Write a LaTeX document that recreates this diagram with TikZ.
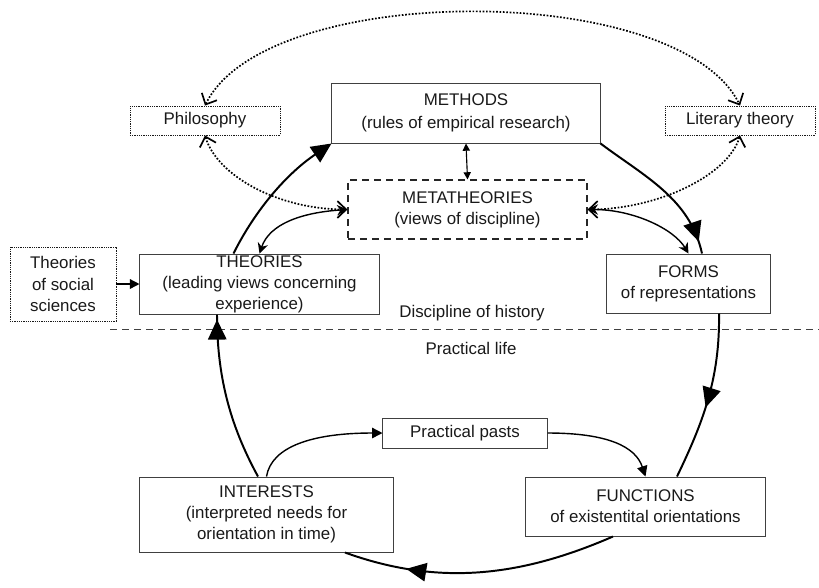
\documentclass[tikz,border=0pt]{standalone}
\usepackage{fontspec}
\setmainfont{Liberation Sans}
\usetikzlibrary{arrows.meta, positioning, calc, decorations.markings}

\begin{document}
\begin{tikzpicture}[
  x=0.025cm, y=-0.025cm,
  font=\fontsize{12}{15}\selectfont,
  box/.style={rectangle, draw=black!75, line width=0.7pt, align=center,
              text=black!90, inner sep=0pt},
  dotbox/.style={box, draw=black!90, line width=0.6pt, dash pattern=on 0.8pt off 0.8pt},
  dashbox/.style={box, draw=black!85, line width=0.8pt, dash pattern=on 1.8mm off 1.2mm},
  loopline/.style={line width=1.4pt},
  midtip/.style={postaction={decorate}, decoration={markings,
                 mark=at position #1 with {\arrow{Triangle[length=5mm,width=4.6mm]}}}},
  thinlink/.style={line width=1pt},
  twoway/.style={thinlink, {Stealth[length=2.6mm,width=2.6mm]}-{Stealth[length=2.6mm,width=2.6mm]}},
  dotlink/.style={line width=1.2pt, dash pattern=on 1.2pt off 1.2pt,
                  {Straight Barb[length=2.2mm,width=4.2mm]}-{Straight Barb[length=2.2mm,width=4.2mm]}}
]
  \useasboundingbox (0,0) rectangle (819,587);

  % cajas
  \node[dotbox, minimum width=3.75cm, minimum height=0.725cm] (phil) at (205,120.5) {Philosophy};
  \node[box, minimum width=6.7cm, minimum height=1.5cm, font=\fontsize{12}{16}\selectfont] (meth) at (466,113)
       {METHODS\\(rules of empirical research)};
  \node[dotbox, minimum width=3.75cm, minimum height=0.725cm] (lit) at (740,120.5) {Literary theory};
  \node[dashbox, minimum width=5.975cm, minimum height=1.475cm] (meta) at (467.5,209.5)
       {METATHEORIES\\(views of discipline)};
  \node[dotbox, minimum width=2.65cm, minimum height=1.85cm] (tss) at (63,284)
       {Theories\\of social\\sciences};
  \node[box, minimum width=5.975cm, minimum height=1.5cm] (theo) at (259.5,284)
       {THEORIES\\(leading views concerning\\experience)};
  \node[box, minimum width=4.075cm, minimum height=1.475cm] (forms) at (688.5,283.5)
       {FORMS\\of representations};
  \node[box, minimum width=4.1cm, minimum height=0.75cm] (past) at (465,433) {Practical pasts};
  \node[box, minimum width=6.325cm, minimum height=1.875cm] (inter) at (266.5,514.5)
       {INTERESTS\\(interpreted needs for\\orientation in time)};
  \node[box, minimum width=5.975cm, minimum height=1.475cm] (func) at (645.5,506.5)
       {FUNCTIONS\\of existentital orientations};

  % division
  \draw[black!75, line width=0.7pt, dash pattern=on 1.8mm off 1.2mm] (110,329) -- (819,329);
  \node[text=black!90] (disc) at (472,313) {Discipline of history};
  \node[text=black!90] (prac) at (471,348) {Practical life};

  % ciclo principal
  \draw[loopline, -{Triangle[length=5mm,width=4.6mm]}] ($(theo.north)+(-26,0)$)
       .. controls +(23,-46) and +(-43,29) .. (meth.south west);
  \draw[loopline, midtip=0.92] (meth.south east)
       .. controls +(44,33) and +(-12,-55) .. ($(forms.north)+(13.5,0)$);
  \draw[loopline, midtip=0.56] ($(forms.south)+(30.5,0)$)
       .. controls +(1,65) and +(26,-54) .. ($(func.north)+(31.5,0)$);
  \draw[loopline, midtip=0.77] ($(func.south)+(-32.5,0)$)
       .. controls +(-92,40) and +(94,34) .. ($(inter.south)+(78.5,0)$);
  \draw[loopline, midtip=0.97] ($(inter.north)+(-8.5,0)$)
       .. controls +(-29,-53) and +(0,60) .. ($(theo.south)+(-42.5,0)$);

  % pasados practicos
  \draw[thinlink, -{Triangle[length=2.6mm,width=2.6mm]}] (inter.north)
       .. controls +(5,-30) and +(-70,0) .. (past.west);
  \draw[thinlink, -{Triangle[length=2.6mm,width=2.6mm]}] (past.east)
       .. controls +(60,0) and +(-10,-30) .. (func.north);

  % metateorias
  \draw[line width=0.8pt, {Triangle[length=1.8mm,width=1.8mm]}-{Triangle[length=1.8mm,width=1.8mm]}]
       (meth.south) -- (meta.north);
  \draw[twoway] (meta.west) .. controls +(-45,3) and +(10,-30) .. (theo.north);
  \draw[twoway] (meta.east) .. controls +(45,0) and +(-15,-25) .. (forms.north);

  % influencias externas
  \draw[dotlink] (phil.north) .. controls +(61,-125) and +(-61,-125) .. (lit.north);
  \draw[dotlink] (phil.south) .. controls +(12,40) and +(-70,0) .. (meta.west);
  \draw[dotlink] (lit.south) .. controls +(-12,40) and +(70,0) .. (meta.east);
  \draw[thinlink, -{Triangle[length=2.4mm,width=2.4mm]}] (tss.east) -- (theo.west);
\end{tikzpicture}
\end{document}
